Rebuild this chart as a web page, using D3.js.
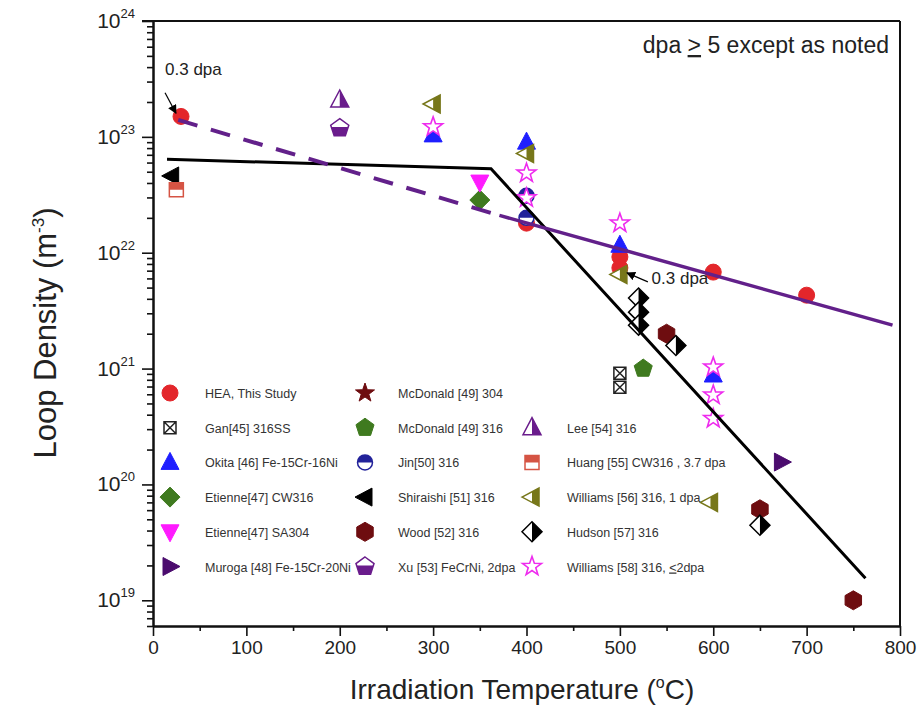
<!DOCTYPE html>
<html>
<head>
<meta charset="utf-8">
<script src="https://cdn.jsdelivr.net/npm/d3@7"></script>
<style>
  body { margin: 0; background: #fff; }
  text { font-family: "Liberation Sans", Arial, sans-serif; }
</style>
</head>
<body>
<script>
const width = 917, height = 709;

// ---- data: [temperature °C, loop density m^-3] ----
const heaThisStudy = [[30, 1.5e23], [400, 1.8e22], [500, 9.2e21], [500, 7.4e21], [600, 6.8e21], [700, 4.3e21]];
const gan45 = [[500, 9.1e20], [500, 6.9e20]];
const okita46 = [[300, 1.04e23], [400, 9.0e22], [500, 1.16e22], [600, 8.8e20]];
const etienneCW316 = [[350, 2.85e22]];
const etienneSA304 = [[350, 4.07e22]];
const muroga48 = [[673, 1.56e20]];
const mcdonald304 = [];
const mcdonald316 = [[525, 1.0e21]];
const jin50 = [[400, 3.1e22], [400, 2.0e22]];
const shiraishi51 = [[20, 4.6e22]];
const wood52 = [[550, 2.0e21], [650, 6.1e19], [750, 1.0e19]];
const xu53 = [[200, 1.19e23]];
const lee54 = [[200, 2.08e23]];
const huang55 = [[25, 3.5e22]];
const williams56 = [[300, 1.92e23], [400, 7.2e22], [500, 6.5e21], [597, 7.0e19]];
const hudson57 = [[520, 4.06e21], [520, 3.07e21], [520, 2.37e21], [560, 1.58e21], [650, 4.45e19]];
const williams58 = [[300, 1.22e23], [400, 4.86e22], [400, 2.97e22], [500, 1.8e22], [600, 1.03e21], [600, 5.9e20], [600, 3.7e20]];

const seriesLabels = ["HEA, This Study", "Gan[45] 316SS", "Okita [46] Fe-15Cr-16Ni", "Etienne[47] CW316",
  "Etienne[47] SA304", "Muroga [48] Fe-15Cr-20Ni", "McDonald [49] 304", "McDonald [49] 316", "Jin[50] 316",
  "Shiraishi [51] 316", "Wood [52] 316", "Xu [53] FeCrNi, 2dpa", "Lee [54] 316", "Huang [55] CW316 , 3.7 dpa",
  "Williams [56] 316, 1 dpa", "Hudson [57] 316", "Williams [58] 316, \u22642dpa"];
const seriesData = [heaThisStudy, gan45, okita46, etienneCW316, etienneSA304, muroga48, mcdonald304, mcdonald316,
  jin50, shiraishi51, wood52, xu53, lee54, huang55, williams56, hudson57, williams58];

// fitted trend lines
const blackFit = [[15, 6.4e22], [362, 5.3e22], [763, 1.55e19]];
const purpleFit = [[371, 2.1e22], [792, 2.37e21]];
const purpleDashFit = [[27, 1.4e23], [371, 2.1e22]];

const xTicks = [0, 100, 200, 300, 400, 500, 600, 700, 800];
const yTicks = [1e19, 1e20, 1e21, 1e22, 1e23, 1e24];

// marker styles, same order as the series
const styles = [
  { shape: "circle", color: "#e3262b", fill: "full" },
  { shape: "gan", color: "#222", fill: "none" },
  { shape: "triUp", color: "#1f1fff", fill: "full" },
  { shape: "diamond", color: "#3f7a1f", fill: "full" },
  { shape: "triDown", color: "#ff1aff", fill: "full" },
  { shape: "triRight", color: "#4b0c6e", fill: "full" },
  { shape: "star", color: "#6e0d10", fill: "full" },
  { shape: "pentagon", color: "#3f7a1f", fill: "full" },
  { shape: "circleSmall", color: "#22229a", fill: "top" },
  { shape: "triLeft", color: "#000", fill: "full" },
  { shape: "hexagon", color: "#6e0d10", fill: "full" },
  { shape: "pentagon", color: "#6a1c8c", fill: "bottom" },
  { shape: "triUp", color: "#6a1c8c", fill: "right" },
  { shape: "square", color: "#d55444", fill: "top" },
  { shape: "triLeft", color: "#77771a", fill: "right" },
  { shape: "diamond", color: "#000", fill: "right" },
  { shape: "star", color: "#ee2bee", fill: "none" }
];

const svg = d3.select("body").append("svg")
  .attr("width", width)
  .attr("height", height);

const x = d3.scaleLinear().domain([0, 800]).range([153, 900]);
const y = d3.scaleLog().domain([6e18, 1e24]).range([626, 21]);

// clip paths for half-filled markers (local marker coordinates)
const defs = svg.append("defs");
const clips = { top: [-20, -20, 40, 20], bottom: [-20, -1, 40, 21], right: [0, -20, 20, 40] };
Object.entries(clips).forEach(([k, r]) => {
  defs.append("clipPath").attr("id", "clip-" + k)
    .append("rect").attr("x", r[0]).attr("y", r[1]).attr("width", r[2]).attr("height", r[3]);
});
defs.append("marker").attr("id", "arrow")
  .attr("viewBox", "0 0 10 10").attr("refX", 9).attr("refY", 5)
  .attr("markerWidth", 9).attr("markerHeight", 9).attr("markerUnits", "userSpaceOnUse")
  .attr("orient", "auto")
  .append("path").attr("d", "M0,0L10,5L0,10Z").attr("fill", "#000");

const poly = pts => "M" + pts.map(p => p.join(",")).join("L") + "Z";
function regular(n, r, rot) {
  return d3.range(n).map(i => {
    const a = rot + i * 2 * Math.PI / n;
    return [r * Math.cos(a), r * Math.sin(a)];
  });
}

function shapePath(shape) {
  switch (shape) {
    case "circle": return d3.symbol(d3.symbolCircle, Math.PI * 64)();
    case "circleSmall": return d3.symbol(d3.symbolCircle, Math.PI * 56)();
    case "triUp": return poly([[0, -10], [9, 7], [-9, 7]]);
    case "triDown": return poly([[0, 10], [9, -7], [-9, -7]]);
    case "triRight": return poly([[10, 0], [-7, -9], [-7, 9]]);
    case "triLeft": return poly([[-10, 0], [7, -9], [7, 9]]);
    case "diamond": return poly([[0, -10], [10, 0], [0, 10], [-10, 0]]);
    case "square": return poly([[-7, -7], [7, -7], [7, 7], [-7, 7]]);
    case "gan": return poly([[-6, -6], [6, -6], [6, 6], [-6, 6]]) + "M-6,-6L6,6M6,-6L-6,6";
    case "pentagon": return poly(regular(5, 9.5, -Math.PI / 2));
    case "hexagon": return poly(regular(6, 9.5, -Math.PI / 2));
    case "star": return poly(d3.range(10).map(i => {
      const r = i % 2 ? 4 : 10, a = -Math.PI / 2 + i * Math.PI / 5;
      return [r * Math.cos(a), r * Math.sin(a)];
    }));
  }
}

function drawMarker(g, st) {
  const d = shapePath(st.shape);
  if (st.fill === "full") {
    g.append("path").attr("d", d).attr("fill", st.color).attr("stroke", st.color).attr("stroke-width", 1);
    return;
  }
  g.append("path").attr("d", d).attr("fill", "#fff");
  if (st.fill !== "none") {
    g.append("path").attr("d", d).attr("fill", st.color).attr("clip-path", `url(#clip-${st.fill})`);
  }
  g.append("path").attr("d", d).attr("fill", "none").attr("stroke", st.color)
    .attr("stroke-width", st.shape === "star" ? 1.6 : 1.5);
}

// ---- axes ----
const xAxis = svg.append("g").attr("transform", "translate(0,626)")
  .call(d3.axisBottom(x).tickValues(xTicks).tickSize(10).tickSizeOuter(0).tickPadding(5).tickFormat(d3.format("d")));
svg.append("g").attr("transform", "translate(0,626)")
  .call(d3.axisBottom(x).tickValues(d3.range(50, 800, 100)).tickSize(5).tickSizeOuter(0).tickFormat(""));
xAxis.selectAll("text").attr("font-size", 19).attr("fill", "#222");

const yMinor = [];
for (let e = 18; e < 24; e++) for (let k = 2; k <= 9; k++) {
  const v = k * Math.pow(10, e);
  if (v >= 6e18 && v <= 1e24) yMinor.push(v);
}
svg.append("g").attr("transform", "translate(153,0)")
  .call(d3.axisLeft(y).tickValues(yMinor).tickSize(6).tickSizeOuter(0).tickFormat(""));
const yAxis = svg.append("g").attr("transform", "translate(153,0)")
  .call(d3.axisLeft(y).tickValues(yTicks).tickSize(11).tickSizeOuter(0).tickFormat(""));

svg.selectAll(".domain").attr("stroke-width", 2).attr("stroke", "#111");
svg.selectAll(".tick line").attr("stroke-width", 1.6).attr("stroke", "#111");

const yLab = svg.append("g").selectAll("text").data(yTicks).join("text")
  .attr("x", 135).attr("y", d => y(d) + 7)
  .attr("text-anchor", "end").attr("font-size", 21).attr("fill", "#222");
yLab.append("tspan").text("10");
yLab.append("tspan").attr("dy", -10).attr("font-size", 13).text(d => Math.round(Math.log10(d)));

// frame top / right
svg.append("line").attr("x1", 142).attr("x2", 900).attr("y1", 21).attr("y2", 21).attr("stroke", "#111").attr("stroke-width", 2);
svg.append("line").attr("x1", 900).attr("x2", 900).attr("y1", 21).attr("y2", 627).attr("stroke", "#111").attr("stroke-width", 2);

// axis titles
const xt = svg.append("text").attr("x", 522).attr("y", 699).attr("text-anchor", "middle")
  .attr("font-size", 28).attr("fill", "#222");
xt.append("tspan").text("Irradiation Temperature (");
xt.append("tspan").attr("dy", -11).attr("font-size", 16).text("o");
xt.append("tspan").attr("dy", 11).text("C)");

const yt = svg.append("text").attr("transform", "translate(56,333) rotate(-90)").attr("text-anchor", "middle")
  .attr("font-size", 31).attr("fill", "#222");
yt.append("tspan").text("Loop Density (m");
yt.append("tspan").attr("dy", -12).attr("font-size", 17).text("-3");
yt.append("tspan").attr("dy", 12).text(")");

// ---- data markers ----
seriesData.forEach((data, i) => {
  svg.append("g").selectAll("g").data(data).join("g")
    .attr("transform", d => `translate(${x(d[0])},${y(d[1])})`)
    .each(function () { drawMarker(d3.select(this), styles[i]); });
});

// ---- trend lines ----
const line = d3.line().x(d => x(d[0])).y(d => y(d[1]));
svg.append("path").attr("d", line(blackFit)).attr("fill", "none").attr("stroke", "#000").attr("stroke-width", 3);
svg.append("path").attr("d", line(purpleFit)).attr("fill", "none").attr("stroke", "#62208a").attr("stroke-width", 3.5);
svg.append("path").attr("d", line(purpleDashFit)).attr("fill", "none").attr("stroke", "#62208a")
  .attr("stroke-width", 4).attr("stroke-dasharray", "20,14");

// ---- annotations ----
svg.append("text").attr("x", 889).attr("y", 53).attr("text-anchor", "end").attr("font-size", 23).attr("fill", "#222")
  .call(t => {
    t.append("tspan").text("dpa ");
    t.append("tspan").attr("text-decoration", "underline").text(">");
    t.append("tspan").text(" 5 except as noted");
  });

const notes = [
  { text: "0.3 dpa", at: [12.9, 3.4e23], from: [12.9, 2.4e23], to: [24.6, 1.6e23] },
  { text: "0.3 dpa", at: [534, 5.4e21], from: [530, 5.6e21], to: [507.6, 6.7e21] }
];
notes.forEach(n => {
  svg.append("text").attr("x", x(n.at[0])).attr("y", y(n.at[1])).attr("font-size", 17).attr("fill", "#222").text(n.text);
  svg.append("line").attr("x1", x(n.from[0])).attr("y1", y(n.from[1]))
    .attr("x2", x(n.to[0])).attr("y2", y(n.to[1]))
    .attr("stroke", "#000").attr("stroke-width", 1.2).attr("marker-end", "url(#arrow)");
});

// ---- legend ----
const legCols = [{ mx: 170, tx: 205 }, { mx: 365, tx: 398 }, { mx: 532, tx: 567 }];
seriesLabels.forEach((label, i) => {
  const col = i < 6 ? 0 : i < 12 ? 1 : 2;
  const row = col === 2 ? i - 11 : i - col * 6;
  const ly = 393 + row * 34.7;
  const g = svg.append("g").attr("transform", `translate(${legCols[col].mx},${ly})`);
  drawMarker(g, styles[i]);
  const t = svg.append("text").attr("x", legCols[col].tx).attr("y", ly + 5)
    .attr("font-size", 12.5).attr("fill", "#333");
  if (label.includes("\u2264")) {
    const [a, b] = label.split("\u2264");
    t.append("tspan").text(a);
    t.append("tspan").attr("text-decoration", "underline").text("<");
    t.append("tspan").text(b);
  } else {
    t.text(label);
  }
});
</script>
</body>
</html>
